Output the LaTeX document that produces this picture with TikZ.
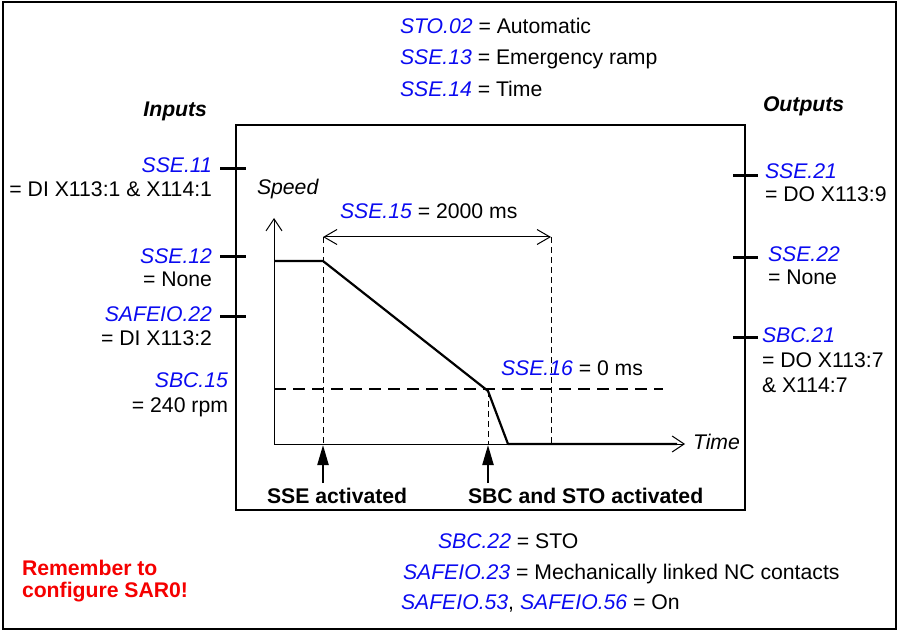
\documentclass[tikz,border=0pt]{standalone}
\usepackage{fontspec}
\setmainfont{Liberation Sans}
\usetikzlibrary{arrows.meta}
\definecolor{pblue}{RGB}{10,10,240}
\definecolor{pred}{RGB}{245,0,0}
\newcommand{\pn}[1]{\textcolor{pblue}{\textit{#1}}}
\newcommand{\fs}{\fontsize{21.2}{25}\selectfont}
\tikzset{
  txt/.style={inner sep=0pt, outer sep=0pt, font=\fs},
  tick/.style={line width=3pt},
  frame/.style={line width=1.2pt},
  axis/.style={line width=1pt, -{Straight Barb[length=12pt,width=16pt,line width=1pt]}},
  speedline/.style={line width=2.2pt, line join=round},
  limitline/.style={line width=2.5pt, dash pattern=on 12pt off 7pt},
  guide/.style={line width=0.9pt, dash pattern=on 6pt off 4pt},
  span/.style={line width=1pt, {Straight Barb[length=13pt,width=15pt,line width=1pt]}-{Straight Barb[length=13pt,width=15pt,line width=1pt]}},
  event/.style={line width=2.2pt, -{Triangle[length=20pt,width=11pt]}}
}
\begin{document}
\begin{tikzpicture}[x=1pt,y=-1pt]
\useasboundingbox (0,0) rectangle (898,631);
% frames
\draw[frame] (3,2) rectangle (896,629);
\draw[frame] (236,125) rectangle (745,510);
% top texts
\node[txt, anchor=base west] (sto02) at (400,34) {\pn{STO.02} = Automatic};
\node[txt, anchor=base west] (sse13) at (400,65) {\pn{SSE.13} = Emergency ramp};
\node[txt, anchor=base west] (sse14) at (400,97) {\pn{SSE.14} = Time};
% headings
\node[txt, anchor=base east, font=\fs\bfseries\itshape] (inputs) at (207,117) {Inputs};
\node[txt, anchor=base west, font=\fs\bfseries\itshape] (outputs) at (763,112) {Outputs};
% inputs
\node[txt, anchor=base east] (sse11) at (212,173) {\pn{SSE.11}};
\node[txt, anchor=base east] (sse11v) at (212,197) {= DI X113:1 \& X114:1};
\node[txt, anchor=base east] (sse12) at (212,264) {\pn{SSE.12}};
\node[txt, anchor=base east] (sse12v) at (212,287) {= None};
\node[txt, anchor=base east] (safeio22) at (212,322) {\pn{SAFEIO.22}};
\node[txt, anchor=base east] (safeio22v) at (212,346) {= DI X113:2};
\node[txt, anchor=base east] (sbc15) at (228,388) {\pn{SBC.15}};
\node[txt, anchor=base east] (sbc15v) at (228,413) {= 240 rpm};
% outputs
\node[txt, anchor=base west] (sse21) at (765,179) {\pn{SSE.21}};
\node[txt, anchor=base west] (sse21v) at (765,202) {= DO X113:9};
\node[txt, anchor=base west] (sse22) at (768,262) {\pn{SSE.22}};
\node[txt, anchor=base west] (sse22v) at (768,285) {= None};
\node[txt, anchor=base west] (sbc21) at (762,343) {\pn{SBC.21}};
\node[txt, anchor=base west] (sbc21v) at (762,368) {= DO X113:7};
\node[txt, anchor=base west] (sbc21w) at (762,392) {\& X114:7};
% ticks
\coordinate (ti1a) at (220,169); \coordinate (ti1b) at (246,169);
\coordinate (ti2a) at (220,257); \coordinate (ti2b) at (246,257);
\coordinate (ti3a) at (220,317); \coordinate (ti3b) at (246,317);
\coordinate (to1a) at (733,176); \coordinate (to1b) at (758,176);
\coordinate (to2a) at (733,258); \coordinate (to2b) at (758,258);
\coordinate (to3a) at (733,338); \coordinate (to3b) at (758,338);
\draw[tick] (ti1a) -- (ti1b);
\draw[tick] (ti2a) -- (ti2b);
\draw[tick] (ti3a) -- (ti3b);
\draw[tick] (to1a) -- (to1b);
\draw[tick] (to2a) -- (to2b);
\draw[tick] (to3a) -- (to3b);
% chart
\coordinate (O) at (274,444);
\coordinate (ytop) at (274,218);
\coordinate (xend) at (685,444);
\coordinate (p0) at (274,261);
\coordinate (p1) at (323,261);
\coordinate (p2) at (488,391);
\coordinate (p3) at (508,444);
\coordinate (p4) at (677,444);
\draw[guide] (323,237) -- (323,444);
\draw[guide] (551,237) -- (551,444);
\draw[guide] (488,391) -- (488,444);
\draw[axis] (O) -- (ytop);
\draw[axis] (O) -- (xend);
\draw[limitline] (274,389) -- (663,389);
\draw[speedline] (p0) -- (p1) -- (p2) -- (p3) -- (p4);
\coordinate (s1) at (323,237); \coordinate (s2) at (551,237);
\draw[span] (s1) -- (s2);
\node[txt, anchor=base west, font=\fs\itshape] (speed) at (257,195) {Speed};
\node[txt, anchor=base west, font=\fs\itshape] (time) at (693,449) {Time};
\node[txt, anchor=base west] (sse15) at (340,219) {\pn{SSE.15} = 2000 ms};
\node[txt, anchor=base west] (sse16) at (501,376) {\pn{SSE.16} = 0 ms};
% events
\coordinate (e1a) at (323,483); \coordinate (e1b) at (323,445);
\coordinate (e2a) at (488,483); \coordinate (e2b) at (488,445);
\draw[event] (e1a) -- (e1b);
\draw[event] (e2a) -- (e2b);
\node[txt, anchor=base west, font=\fs\bfseries] (sseact) at (267,503) {SSE activated};
\node[txt, anchor=base west, font=\fs\bfseries] (sbcact) at (468,503) {SBC and STO activated};
% bottom
\node[txt, anchor=base west] (sbc22) at (438,548) {\pn{SBC.22} = STO};
\node[txt, anchor=base west] (safeio23) at (403,579) {\pn{SAFEIO.23} = Mechanically linked NC contacts};
\node[txt, anchor=base west] (safeio53) at (401,609) {\pn{SAFEIO.53}, \pn{SAFEIO.56} = On};
\node[txt, anchor=base west, text=pred, font=\fs\bfseries] (rem1) at (22,575) {Remember to};
\node[txt, anchor=base west, text=pred, font=\fs\bfseries] (rem2) at (22,597) {configure SAR0!};
\end{tikzpicture}
\end{document}
